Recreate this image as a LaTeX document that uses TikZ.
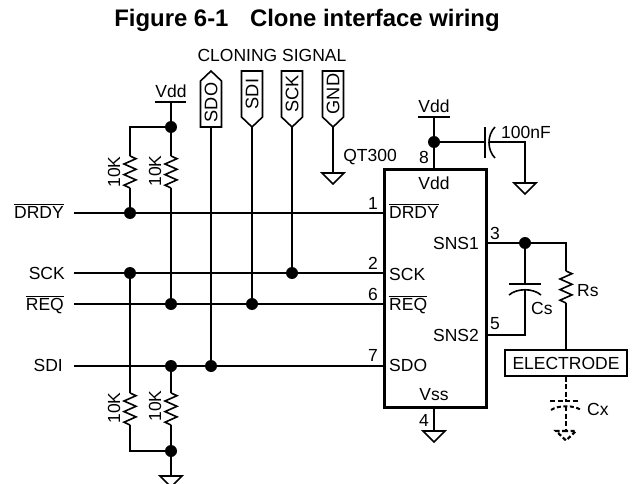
\documentclass[tikz,border=0pt]{standalone}
\usepackage{fontspec}
\setmainfont{Liberation Sans}
\usetikzlibrary{calc}
\newcommand{\ovl}[1]{$\overline{\hbox{#1}}$}
\tikzset{
  wire/.style={line width=1.6pt,line join=miter},
  lbl/.style={inner sep=0pt,font=\fontsize{17.5}{20}\selectfont},
  jn/.style={circle,fill=black,draw=none,minimum size=12pt,inner sep=0pt},
  flagtxt/.style={inner sep=0pt,font=\fontsize{18.2}{20}\selectfont,rotate=90},
  dash wire/.style={line width=2.5pt,dash pattern=on 5pt off 2.5pt},
}
% resistor between two named points (vertical), 32pt long zigzag
\newcommand{\resistor}[2]{%
  \draw[wire] (#1) -- ++(6,2.7) -- ++(-12,5.3) -- ++(12,5.3) -- ++(-12,5.3) -- ++(12,5.3) -- ++(-12,5.3) -- (#2);}
\newcommand{\gnd}[1]{\draw[wire,fill=white] (#1) -- ++(-11,0) -- ++(11,11) -- ++(11,-11) -- cycle;}
\newcommand{\flagdown}[2]{\draw[wire,fill=white] (#1) -- ++(-10.5,-10) -- ++(0,-46) -- ++(21,0) -- ++(0,46) -- cycle;
  \node[flagtxt] at ($(#1)+(0,-33)$) {#2};}
\begin{document}
\begin{tikzpicture}[x=1pt,y=-1pt]
\useasboundingbox (0,0) rectangle (632,484);
\node[inner sep=0pt,anchor=base,font=\bfseries\fontsize{23.9}{26}\selectfont] (title) at (307,27) {Figure 6-1\hspace{0.9em}Clone interface wiring};
\node[lbl] (cloning) at (272,55) {CLONING SIGNAL};

% IC and electrode
\node[draw,line width=3pt,minimum width=102pt,minimum height=238pt,inner sep=0pt,anchor=north west] (ic) at (383,168) {};
\node[draw,line width=1.6pt,minimum width=122pt,minimum height=26pt,inner sep=0pt,lbl] (el) at (566,363) {ELECTRODE};

% flags
\coordinate (sdoF) at (211,127);
\coordinate (sdiF) at (252,127);
\coordinate (sckF) at (292,127);
\coordinate (gndF) at (333,127);
\draw[wire,fill=white] (sdoF) -- ++(-10.5,0) -- ++(0,-46) -- ++(10.5,-10) -- ++(10.5,10) -- ++(0,46) -- cycle;
\node[flagtxt] (sdoT) at (211,102.5) {SDO};
\flagdown{sdiF}{SDI}
\flagdown{sckF}{SCK}
\flagdown{gndF}{GND}

% junctions
\node[jn] (j1) at (171,127) {};
\node[jn] (j2) at (130,213) {};
\node[jn] (j3) at (130,273) {};
\node[jn] (j4) at (292,273) {};
\node[jn] (j5) at (171,304) {};
\node[jn] (j6) at (252,304) {};
\node[jn] (j7) at (171,366) {};
\node[jn] (j8) at (211,366) {};
\node[jn] (j9) at (171,451) {};
\node[jn] (j10) at (434,142) {};
\node[jn] (j11) at (525,243) {};

% left nets
\coordinate (inD) at (74,213);
\coordinate (inS) at (74,273);
\coordinate (inR) at (74,304);
\coordinate (inI) at (74,366);
\draw[wire] (inD) -- (inD -| ic.west);
\draw[wire] (inS) -- (inS -| ic.west);
\draw[wire] (inR) -- (inR -| ic.west);
\draw[wire] (inI) -- (inI -| ic.west);
\draw[wire] (sdoF) -- (j8);
\draw[wire] (sdiF) -- (j6);
\draw[wire] (sckF) -- (j4);
\coordinate (gndA) at (333,173);
\draw[wire] (gndF) -- (gndA);
\gnd{gndA}

% Vdd left
\coordinate (vddA) at (171,102);
\draw[wire] (155,102) -- (186,102);
\draw[wire] (vddA) -- (j1);
\coordinate (ra1) at (130,156); \coordinate (rb1) at (130,188);
\coordinate (ra2) at (171,156); \coordinate (rb2) at (171,188);
\draw[wire] (j1) -| (ra1); \resistor{ra1}{rb1} \draw[wire] (rb1) -- (j2);
\draw[wire] (j1) -- (ra2); \resistor{ra2}{rb2} \draw[wire] (rb2) -- (j5);
\coordinate (ra3) at (130,393); \coordinate (rb3) at (130,425);
\coordinate (ra4) at (171,393); \coordinate (rb4) at (171,425);
\draw[wire] (j3) -- (ra3); \resistor{ra3}{rb3} \draw[wire] (rb3) |- (j9);
\draw[wire] (j7) -- (ra4); \resistor{ra4}{rb4} \draw[wire] (rb4) -- (j9);
\coordinate (gndB) at (171,476);
\draw[wire] (j9) -- (gndB);
\gnd{gndB}

% right top
\coordinate (vddB) at (434,117);
\draw[wire] (418,117) -- (450,117);
\draw[wire] (vddB) -- (j10);
\draw[wire] (j10) -- (vddB |- ic.north);
\coordinate (capA) at (485,142);
\coordinate (capB) at (489,142);
\coordinate (capC) at (525,142);
\coordinate (gndC) at (525,183);
\draw[wire] (j10) -- (capA);
\draw[wire] (485,127) -- (485,158);
\draw[wire] (495,127) .. controls (487,135) and (487,150) .. (495,158);
\draw[wire] (capB) -- (capC) -- (gndC);
\gnd{gndC}

% pin 4
\coordinate (gndD) at (434,431);
\draw[wire] (gndD |- ic.south) -- (gndD);
\gnd{gndD}

% right nets
\coordinate (ic3) at (485,243);
\coordinate (ic5) at (485,335);
\coordinate (rsT) at (566,243);
\coordinate (rsA) at (566,271); \coordinate (rsB) at (566,303);
\coordinate (csA) at (525,284); \coordinate (csB) at (525,290);
\coordinate (csC) at (525,335);
\draw[wire] (ic3) -- (j11);
\draw[wire] (j11) -- (rsT) -- (rsA);
\resistor{rsA}{rsB}
\draw[wire] (rsB) -- (el.north -| rsB);
\draw[wire] (j11) -- (csA);
\draw[wire] (509,284) -- (541,284);
\draw[wire] (509,295) .. controls (517,288) and (533,288) .. (541,295);
\draw[wire] (csB) -- (csC) -- (ic5);

% dashed Cx
\coordinate (cxA) at (566,400);
\coordinate (cxB) at (566,406);
\coordinate (cxC) at (566,431);
\draw[dash wire] (el.south) -- (cxA);
\draw[dash wire] (550,401) -- (579,401);
\draw[line width=2pt,dash pattern=on 4pt off 2.5pt] (551,410) .. controls (558,405) and (574,405) .. (581,410);
\draw[dash wire] (cxB) -- (cxC);
\draw[line width=2.2pt,dash pattern=on 4pt off 2.5pt] (cxC) -- ++(-10,0) -- ++(10,9.5) -- ++(10,-9.5) -- cycle;

% labels
\node[lbl] (vddL) at (171,91) {Vdd};
\node[lbl,rotate=90] (r1L) at (114,172) {10K};
\node[lbl,rotate=90] (r2L) at (155,171) {10K};
\node[lbl,rotate=90] (r3L) at (114,408) {10K};
\node[lbl,rotate=90] (r4L) at (155,406) {10K};
\node[lbl,anchor=base east] (sD) at (64,218) {\ovl{DRDY}};
\node[lbl,anchor=base east] (sS) at (65,279) {SCK};
\node[lbl,anchor=base east] (sR) at (64,310) {\ovl{REQ}};
\node[lbl,anchor=base east] (sI) at (63,371) {SDI};
\node[lbl] (qt) at (370,157) {QT300};
\node[lbl] (vddR) at (434,106) {Vdd};
\node[lbl] (p8) at (424,157) {8};
\node[lbl] (cap) at (526,132) {100nF};
\node[lbl] (vddI) at (434,183) {Vdd};
\node[lbl,anchor=base west] (lD) at (389,218) {\ovl{DRDY}};
\node[lbl,anchor=base west] (lS) at (389,280) {SCK};
\node[lbl,anchor=base west] (lR) at (389,310) {\ovl{REQ}};
\node[lbl,anchor=base west] (lO) at (389,371) {SDO};
\node[lbl,anchor=base east] (lS1) at (479,249) {SNS1};
\node[lbl,anchor=base east] (lS2) at (479,341) {SNS2};
\node[lbl] (vss) at (434,395) {Vss};
\node[lbl] (p1) at (373,203) {1};
\node[lbl] (p2) at (373,263) {2};
\node[lbl] (p6) at (373,294) {6};
\node[lbl] (p7) at (373,355) {7};
\node[lbl] (p3) at (495,233) {3};
\node[lbl] (p5) at (495,324) {5};
\node[lbl] (p4) at (424,420) {4};
\node[lbl,anchor=west] (rs) at (577,291) {Rs};
\node[lbl,anchor=west] (cs) at (531,308) {Cs};
\node[lbl,anchor=west] (cx) at (587,409) {Cx};
\end{tikzpicture}
\end{document}
